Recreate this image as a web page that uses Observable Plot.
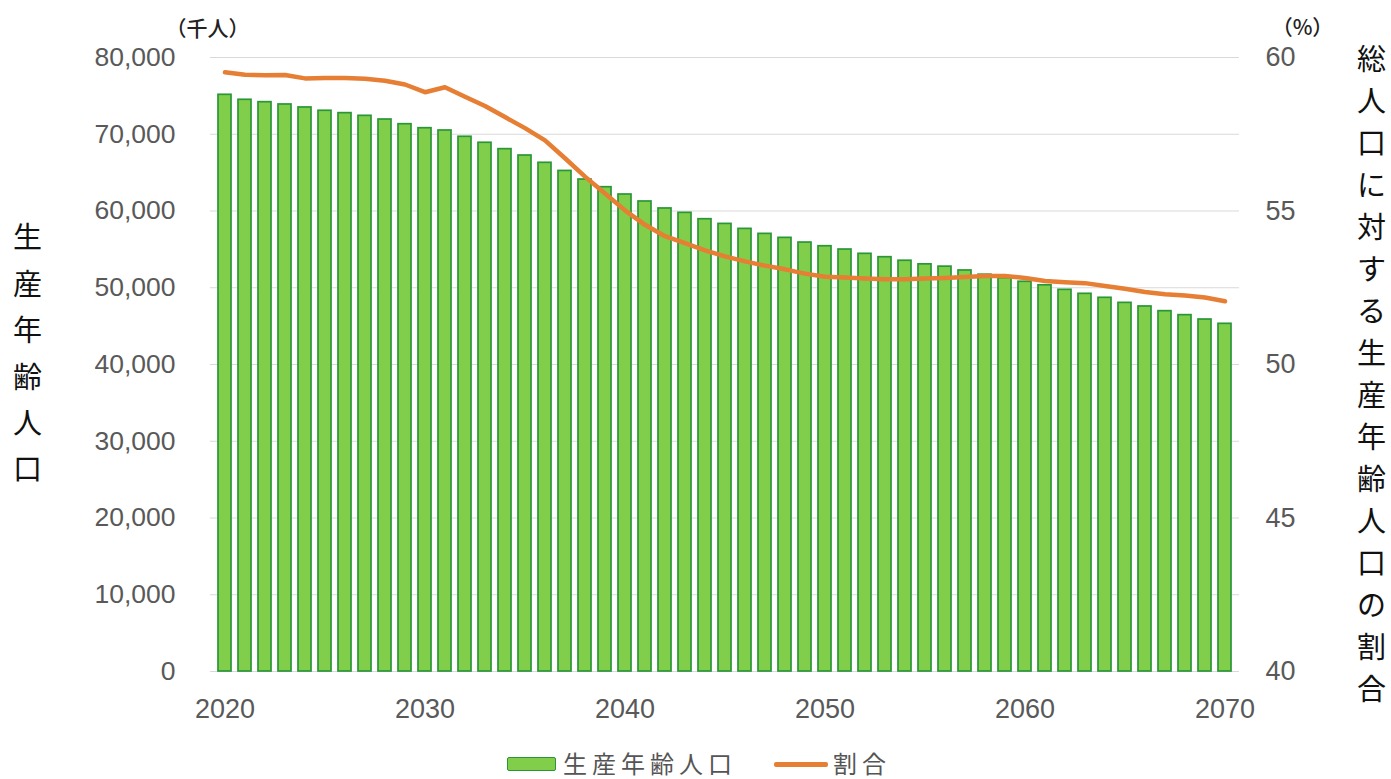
<!DOCTYPE html>
<html>
<head>
<meta charset="utf-8">
<script src="https://cdn.jsdelivr.net/npm/d3@7"></script>
<script src="https://cdn.jsdelivr.net/npm/@observablehq/plot@0.6"></script>
<style>
  html, body { margin: 0; padding: 0; background: #fff; }
  #wrap { width: 1391px; position: relative; }
  #legend { position: relative; width: 1391px; height: 39px; font-family: "Noto Sans CJK JP", sans-serif; color: #555; }
  #legend .sw { position: absolute; }
  #legend .tx { position: absolute; font-size: 24px; letter-spacing: 5px; line-height: 1; }
</style>
</head>
<body>
<div id="wrap"></div>
<script>
const years = d3.range(2020, 2071);
const workingAge = [
  75140, 74490, 74180, 73880, 73490, 73060, 72750, 72400, 71920, 71310,
  70790, 70490, 69670, 68890, 68060, 67230, 66280, 65220, 64100, 63100,
  62150, 61240, 60330, 59760, 58930, 58320, 57670, 57020, 56500, 55890,
  55410, 54980, 54420, 53980, 53520, 53050, 52750, 52250, 51700, 51250,
  50780, 50320, 49730, 49210, 48690, 48030, 47560, 46950, 46430, 45860,
  45300
];
const ratio = [
  59.52, 59.44, 59.42, 59.43, 59.32, 59.33, 59.33, 59.31, 59.24, 59.12,
  58.87, 59.03, 58.72, 58.42, 58.06, 57.70, 57.30, 56.72, 56.12, 55.57,
  55.02, 54.55, 54.18, 53.95, 53.72, 53.52, 53.36, 53.22, 53.10, 52.96,
  52.86, 52.83, 52.80, 52.78, 52.78, 52.80, 52.82, 52.85, 52.88, 52.88,
  52.82, 52.72, 52.68, 52.65, 52.56, 52.47, 52.36, 52.29, 52.25, 52.18,
  52.06
];
const leftTicks = [0, 10000, 20000, 30000, 40000, 50000, 60000, 70000, 80000];
const rightTicks = [40, 45, 50, 55, 60];
const xTicks = [2020, 2030, 2040, 2050, 2060, 2070];
const leftTitle = "生産年齢人口";
const rightTitle = "総人口に対する生産年齢人口の割合";
const leftUnit = "（千人）";
const rightUnit = "（%）";
const legendLabels = ["生産年齢人口", "割合"];

// map percent (40–60) onto the left scale (0–80,000)
const pctToY = p => (p - 40) * 4000;

const barData = years.map((y, i) => ({year: y, value: workingAge[i]}));
const lineData = years.map((y, i) => ({year: y, pct: ratio[i]}));

const GREEN_FILL = "#80CE4A";
const GREEN_STROKE = "#2A9638";
const ORANGE = "#E67E33";
const TICK = "#595959";

const chart = Plot.plot({
  width: 1391,
  height: 740,
  marginLeft: 210,
  marginRight: 152,
  marginTop: 57,
  marginBottom: 69,
  style: {fontFamily: "'Liberation Sans', Arial, 'Noto Sans CJK JP', sans-serif", background: "#fff", overflow: "visible"},
  x: {type: "band", domain: years, paddingInner: 0.35, paddingOuter: 0.175, label: null},
  y: {domain: [0, 80000], label: null},
  marks: [
    Plot.gridY(leftTicks, {stroke: "#d9d9d9", strokeOpacity: 1, strokeWidth: 1.2}),
    Plot.barY(barData, {x: "year", y: "value", fill: GREEN_FILL, stroke: GREEN_STROKE, strokeWidth: 1.7}),
    Plot.line(lineData, {x: "year", y: d => pctToY(d.pct), stroke: ORANGE, strokeWidth: 4.5, strokeLinejoin: "round", strokeLinecap: "round"}),
    Plot.axisY({anchor: "left", ticks: leftTicks, tickFormat: d3.format(","), tickSize: 0, tickPadding: 35, fontSize: 26.5, color: TICK, label: null}),
    Plot.axisY({anchor: "right", ticks: rightTicks.map(pctToY), tickFormat: d => String(40 + d / 4000), tickSize: 0, tickPadding: 26, fontSize: 27, color: TICK, label: null}),
    Plot.axisX({ticks: xTicks, tickFormat: d => String(d), tickSize: 0, tickPadding: 27, fontSize: 27, color: TICK, label: null}),
    Plot.text([leftTitle], {text: d => d.split("").join("\n"), frameAnchor: "left", dx: -183, dy: -15, lineHeight: 1.6, fontSize: 29, fill: "#111", fontFamily: "'Noto Sans CJK JP', sans-serif", fontWeight: 400, lineAnchor: "middle", textAnchor: "middle"}),
    Plot.text([rightTitle], {text: d => d.split("").join("\n"), frameAnchor: "right", dx: 132, dy: 7, lineHeight: 1.45, fontSize: 29, fill: "#111", fontFamily: "'Noto Sans CJK JP', sans-serif", fontWeight: 400, lineAnchor: "middle", textAnchor: "middle"}),
    Plot.text([leftUnit], {frameAnchor: "top-left", textAnchor: "middle", dx: -3, dy: -36, fontSize: 21, fontWeight: 500, fill: "#222", fontFamily: "'Noto Sans CJK JP', sans-serif"}),
    Plot.text([rightUnit], {frameAnchor: "top-right", textAnchor: "middle", dx: 63, dy: -37, fontSize: 21, fontWeight: 500, fill: "#222", fontFamily: "'Noto Sans CJK JP', sans-serif"})
  ]
});

const wrap = document.getElementById("wrap");
wrap.appendChild(chart);

const legend = document.createElement("div");
legend.id = "legend";
legend.innerHTML = `
  <div class="sw" style="left:507px; top:17px; width:47px; height:12px; background:${GREEN_FILL}; border:1.5px solid ${GREEN_STROKE}; border-radius:2px;"></div>
  <div class="tx" style="left:563px; top:11px;">${legendLabels[0]}</div>
  <div class="sw" style="left:774px; top:22px; width:54px; height:4.5px; background:${ORANGE}; border-radius:2px;"></div>
  <div class="tx" style="left:833px; top:11px;">${legendLabels[1]}</div>
`;
wrap.appendChild(legend);
</script>
</body>
</html>
